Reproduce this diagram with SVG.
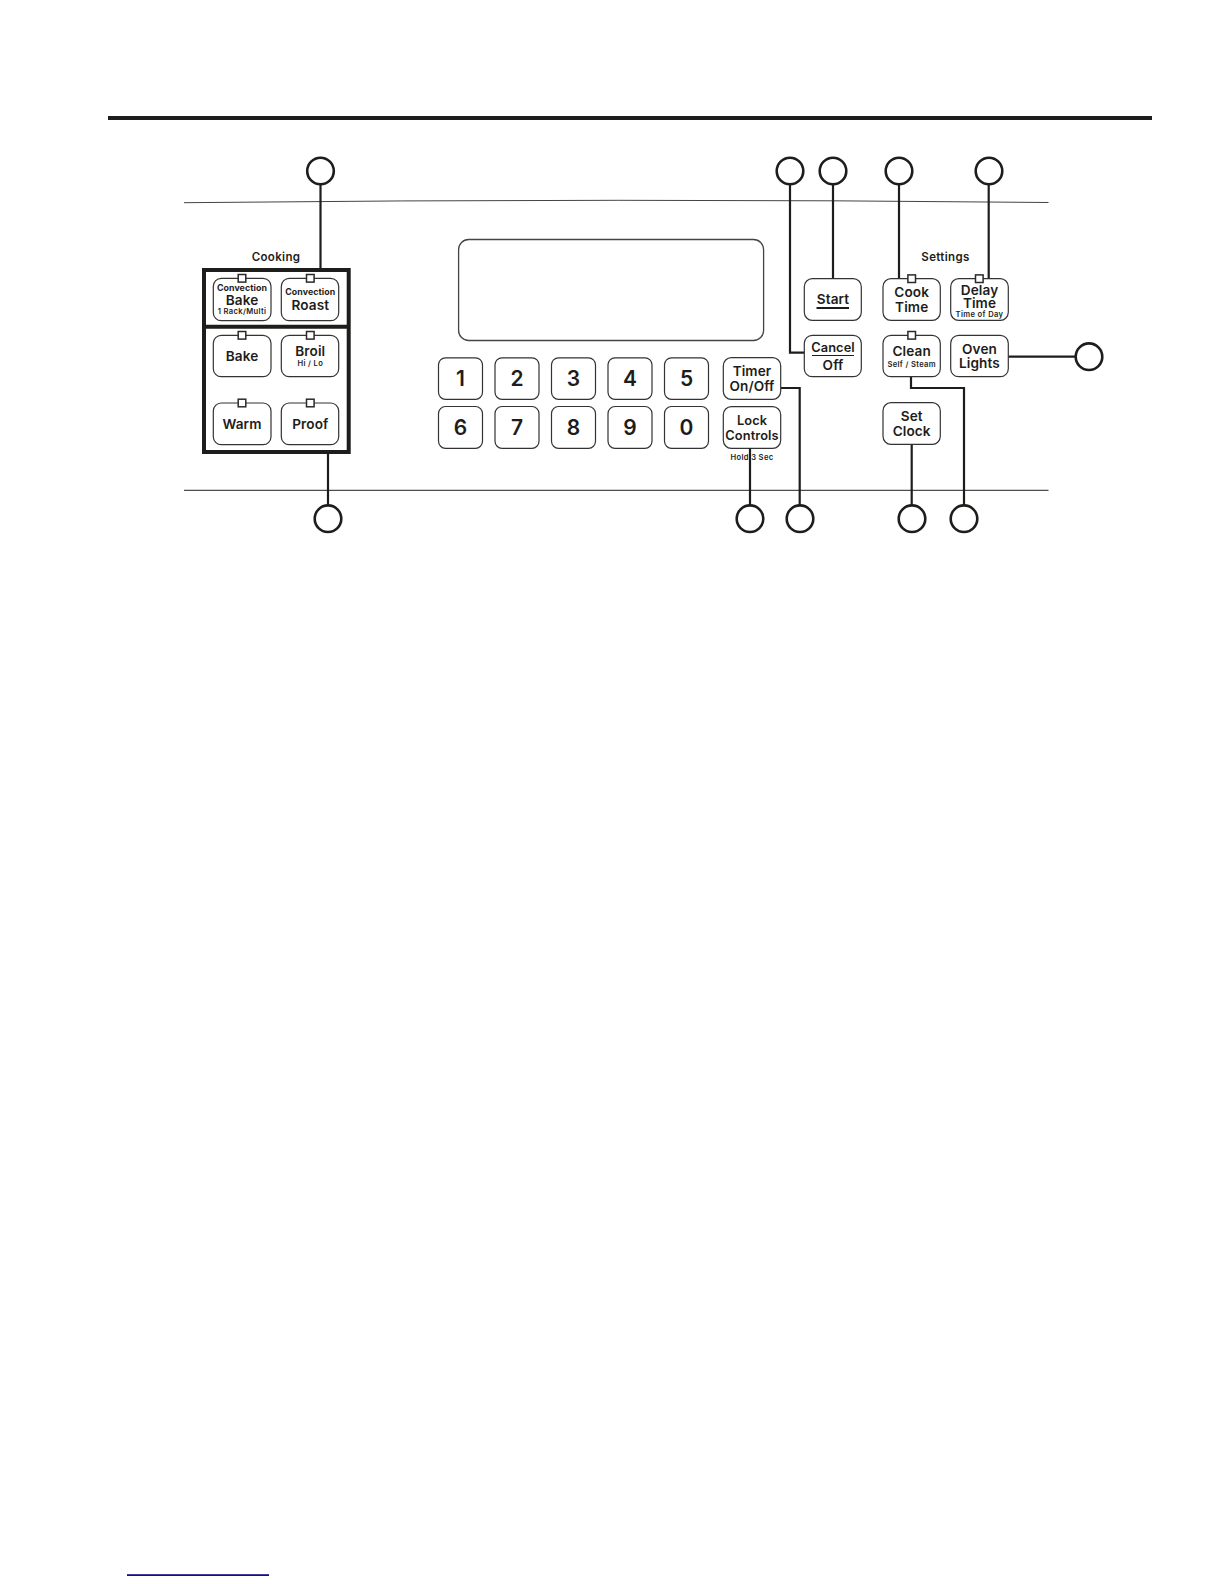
<svg xmlns="http://www.w3.org/2000/svg" width="1224" height="1584" viewBox="0 0 1224 1584">
<style>
text{font-family:"Inter","Liberation Sans",sans-serif;fill:#1d1d1b;text-anchor:middle;font-weight:600}
.b{fill:#fff;stroke:#333;stroke-width:1.2}
.k{fill:#fff;stroke:#333;stroke-width:1.2}
.l{fill:#fff;stroke:#2a2a2a;stroke-width:1.5}
.c{fill:none;stroke:#1d1d1b;stroke-width:2.2}
.n{fill:#fff;stroke:#1d1d1b;stroke-width:2.6}
.t14{font-size:13.6px;letter-spacing:.1px}.t13{font-size:12.8px;letter-spacing:.1px}.t9{font-size:8.800px;font-weight:700;letter-spacing:.1px}.t8{font-size:7.600px;font-weight:600;letter-spacing:.35px}
.h{font-size:11.500px;letter-spacing:.35px}
.d{font-size:21px}
</style>
<rect width="1224" height="1584" fill="#fff"/>
<rect x="108" y="116" width="1044" height="4" fill="#1d1d1b"/>
<path d="M184 202.7Q620 198 1048.500 202.500" fill="none" stroke="#444" stroke-width="1"/>
<path d="M184 490.300H1048.500" fill="none" stroke="#222" stroke-width="1"/>
<rect id="display" x="458.600" y="239.500" width="305" height="101" rx="10" fill="#fff" stroke="#444" stroke-width="1.300"/>
<g id="connectors">
<path class="c" d="M320.500 184V268"/>
<path class="c" d="M328 454V505"/>
<path class="c" d="M790 184V352.700H804.300"/>
<path class="c" d="M833 184V278.700"/>
<path class="c" d="M899 184V278.700"/>
<path class="c" d="M988.700 184V278.700"/>
<path class="c" d="M780.700 388H799.700V505"/>
<path class="c" d="M911 376.700V388H964V505"/>
<path class="c" d="M911.700 444.300V505"/>
<path class="c" d="M1008.300 356.700H1076"/>
</g>
<g id="cooking-panel">
<rect x="204" y="270" width="144.700" height="182" fill="#fff" stroke="#1d1d1b" stroke-width="4"/>
<path d="M204 326.700H348.700" stroke="#1d1d1b" stroke-width="4"/>
<text x="276" y="261" class="h">Cooking</text>
</g>
<g id="btn-conv-bake"><rect class="b" x="213.300" y="278.300" width="57.700" height="42.400" rx="8"/><rect class="l" x="238.200" y="274.500" width="7.600" height="7.600"/><text x="242" y="291.300" class="t9">Convection</text><text x="242" y="305" class="t14">Bake</text><text x="242" y="314.300" class="t8">1 Rack/Multi</text></g>
<g id="btn-conv-roast"><rect class="b" x="281.300" y="278.300" width="57.400" height="42.400" rx="8"/><rect class="l" x="306.500" y="274.500" width="7.600" height="7.600"/><text x="310.300" y="295" class="t9">Convection</text><text x="310.300" y="310" class="t14">Roast</text></g>
<g id="btn-bake"><rect class="b" x="213.300" y="335.300" width="57.700" height="41.400" rx="8"/><rect class="l" x="238.200" y="331.500" width="7.600" height="7.600"/><text x="242" y="360.700" class="t14">Bake</text></g>
<g id="btn-broil"><rect class="b" x="281.300" y="335.300" width="57.400" height="41.400" rx="8"/><rect class="l" x="306.500" y="331.500" width="7.600" height="7.600"/><text x="310.300" y="356" class="t14">Broil</text><text x="310.300" y="366" class="t8">Hi / Lo</text></g>
<g id="btn-warm"><rect class="b" x="213.300" y="403" width="57.700" height="41.700" rx="8"/><rect class="l" x="238.200" y="399.200" width="7.600" height="7.600"/><text x="242" y="428.500" class="t14">Warm</text></g>
<g id="btn-proof"><rect class="b" x="281.300" y="403" width="57.400" height="41.700" rx="8"/><rect class="l" x="306.500" y="399.200" width="7.600" height="7.600"/><text x="310.300" y="428.500" class="t14">Proof</text></g>
<g id="keys">
<g id="key-1"><rect class="k" x="438.500" y="357.800" width="44" height="41.500" rx="7"/><text x="460.500" y="385.500" class="d">1</text></g>
<g id="key-2"><rect class="k" x="495" y="357.800" width="44" height="41.500" rx="7"/><text x="517" y="385.500" class="d">2</text></g>
<g id="key-3"><rect class="k" x="551.500" y="357.800" width="44" height="41.500" rx="7"/><text x="573.500" y="385.500" class="d">3</text></g>
<g id="key-4"><rect class="k" x="608" y="357.800" width="44" height="41.500" rx="7"/><text x="630" y="385.500" class="d">4</text></g>
<g id="key-5"><rect class="k" x="664.500" y="357.800" width="44" height="41.500" rx="7"/><text x="686.500" y="385.500" class="d">5</text></g>
<g id="key-6"><rect class="k" x="438.500" y="406.500" width="44" height="41.800" rx="7"/><text x="460.500" y="434.500" class="d">6</text></g>
<g id="key-7"><rect class="k" x="495" y="406.500" width="44" height="41.800" rx="7"/><text x="517" y="434.500" class="d">7</text></g>
<g id="key-8"><rect class="k" x="551.500" y="406.500" width="44" height="41.800" rx="7"/><text x="573.500" y="434.500" class="d">8</text></g>
<g id="key-9"><rect class="k" x="608" y="406.500" width="44" height="41.800" rx="7"/><text x="630" y="434.500" class="d">9</text></g>
<g id="key-0"><rect class="k" x="664.500" y="406.500" width="44" height="41.800" rx="7"/><text x="686.500" y="434.500" class="d">0</text></g>
</g>
<g id="btn-timer"><rect class="b" x="723.300" y="357.700" width="57.400" height="41.600" rx="8"/><text x="752" y="376" class="t14">Timer</text><text x="752" y="390.500" class="t14">On/Off</text></g>
<g id="btn-lock"><rect class="b" x="723.300" y="406.700" width="57.400" height="41.600" rx="8"/><text x="752" y="425" class="t13">Lock</text><text x="752" y="439.500" class="t13">Controls</text></g>
<text x="752" y="459.500" class="t8">Hold 3 Sec</text>
<path class="c" d="M750 448.300V505"/>
<g id="btn-start"><rect class="b" x="804.300" y="278.700" width="57" height="41.600" rx="8"/><text x="833" y="303.500" class="t14">Start</text><path d="M816.500 308H849" stroke="#1d1d1b" stroke-width="1.800"/></g>
<g id="btn-cancel"><rect class="b" x="804.300" y="335.300" width="57" height="41.400" rx="8"/><text x="833" y="351.500" class="t13">Cancel</text><path d="M812 355.500H854" stroke="#1d1d1b" stroke-width="1.200"/><text x="833" y="369.500" class="t14">Off</text></g>
<text x="945.500" y="261" class="h">Settings</text>
<g id="btn-cook"><rect class="b" x="883" y="278.700" width="57.300" height="41.600" rx="8"/><rect class="l" x="907.900" y="274.900" width="7.600" height="7.600"/><text x="911.700" y="297" class="t14">Cook</text><text x="911.700" y="311.500" class="t14">Time</text></g>
<g id="btn-delay"><rect class="b" x="950.700" y="278.700" width="57.600" height="41.600" rx="8"/><rect class="l" x="975.500" y="274.900" width="7.600" height="7.600"/><text x="979.500" y="294.500" class="t14">Delay</text><text x="979.500" y="307.500" class="t14">Time</text><text x="979.500" y="317" class="t8">Time of Day</text></g>
<g id="btn-clean"><rect class="b" x="883" y="335.300" width="57.300" height="41.400" rx="8"/><rect class="l" x="907.900" y="331.500" width="7.600" height="7.600"/><text x="911.700" y="356" class="t14">Clean</text><text x="911.700" y="366.500" class="t8">Self / Steam</text></g>
<g id="btn-oven"><rect class="b" x="950.700" y="335.300" width="57.600" height="41.400" rx="8"/><text x="979.500" y="353.500" class="t14">Oven</text><text x="979.500" y="368" class="t14">Lights</text></g>
<g id="btn-setclock"><rect class="b" x="883" y="402.700" width="57.300" height="41.600" rx="8"/><text x="911.700" y="421" class="t14">Set</text><text x="911.700" y="435.500" class="t14">Clock</text></g>
<g id="callouts">
<circle id="n1" class="n" cx="320.500" cy="171" r="13.300"/>
<circle id="n2" class="n" cx="790" cy="171" r="13.300"/>
<circle id="n3" class="n" cx="833" cy="171" r="13.300"/>
<circle id="n4" class="n" cx="899" cy="171" r="13.300"/>
<circle id="n5" class="n" cx="989" cy="171" r="13.300"/>
<circle id="n6" class="n" cx="1089" cy="356.700" r="13.300"/>
<circle id="n7" class="n" cx="328" cy="518.700" r="13.300"/>
<circle id="n8" class="n" cx="750" cy="518.700" r="13.300"/>
<circle id="n9" class="n" cx="800" cy="518.700" r="13.300"/>
<circle id="n10" class="n" cx="912" cy="518.700" r="13.300"/>
<circle id="n11" class="n" cx="964" cy="518.700" r="13.300"/>
</g>
<rect x="127" y="1574.200" width="142" height="1.800" fill="#10108a"/>
</svg>
